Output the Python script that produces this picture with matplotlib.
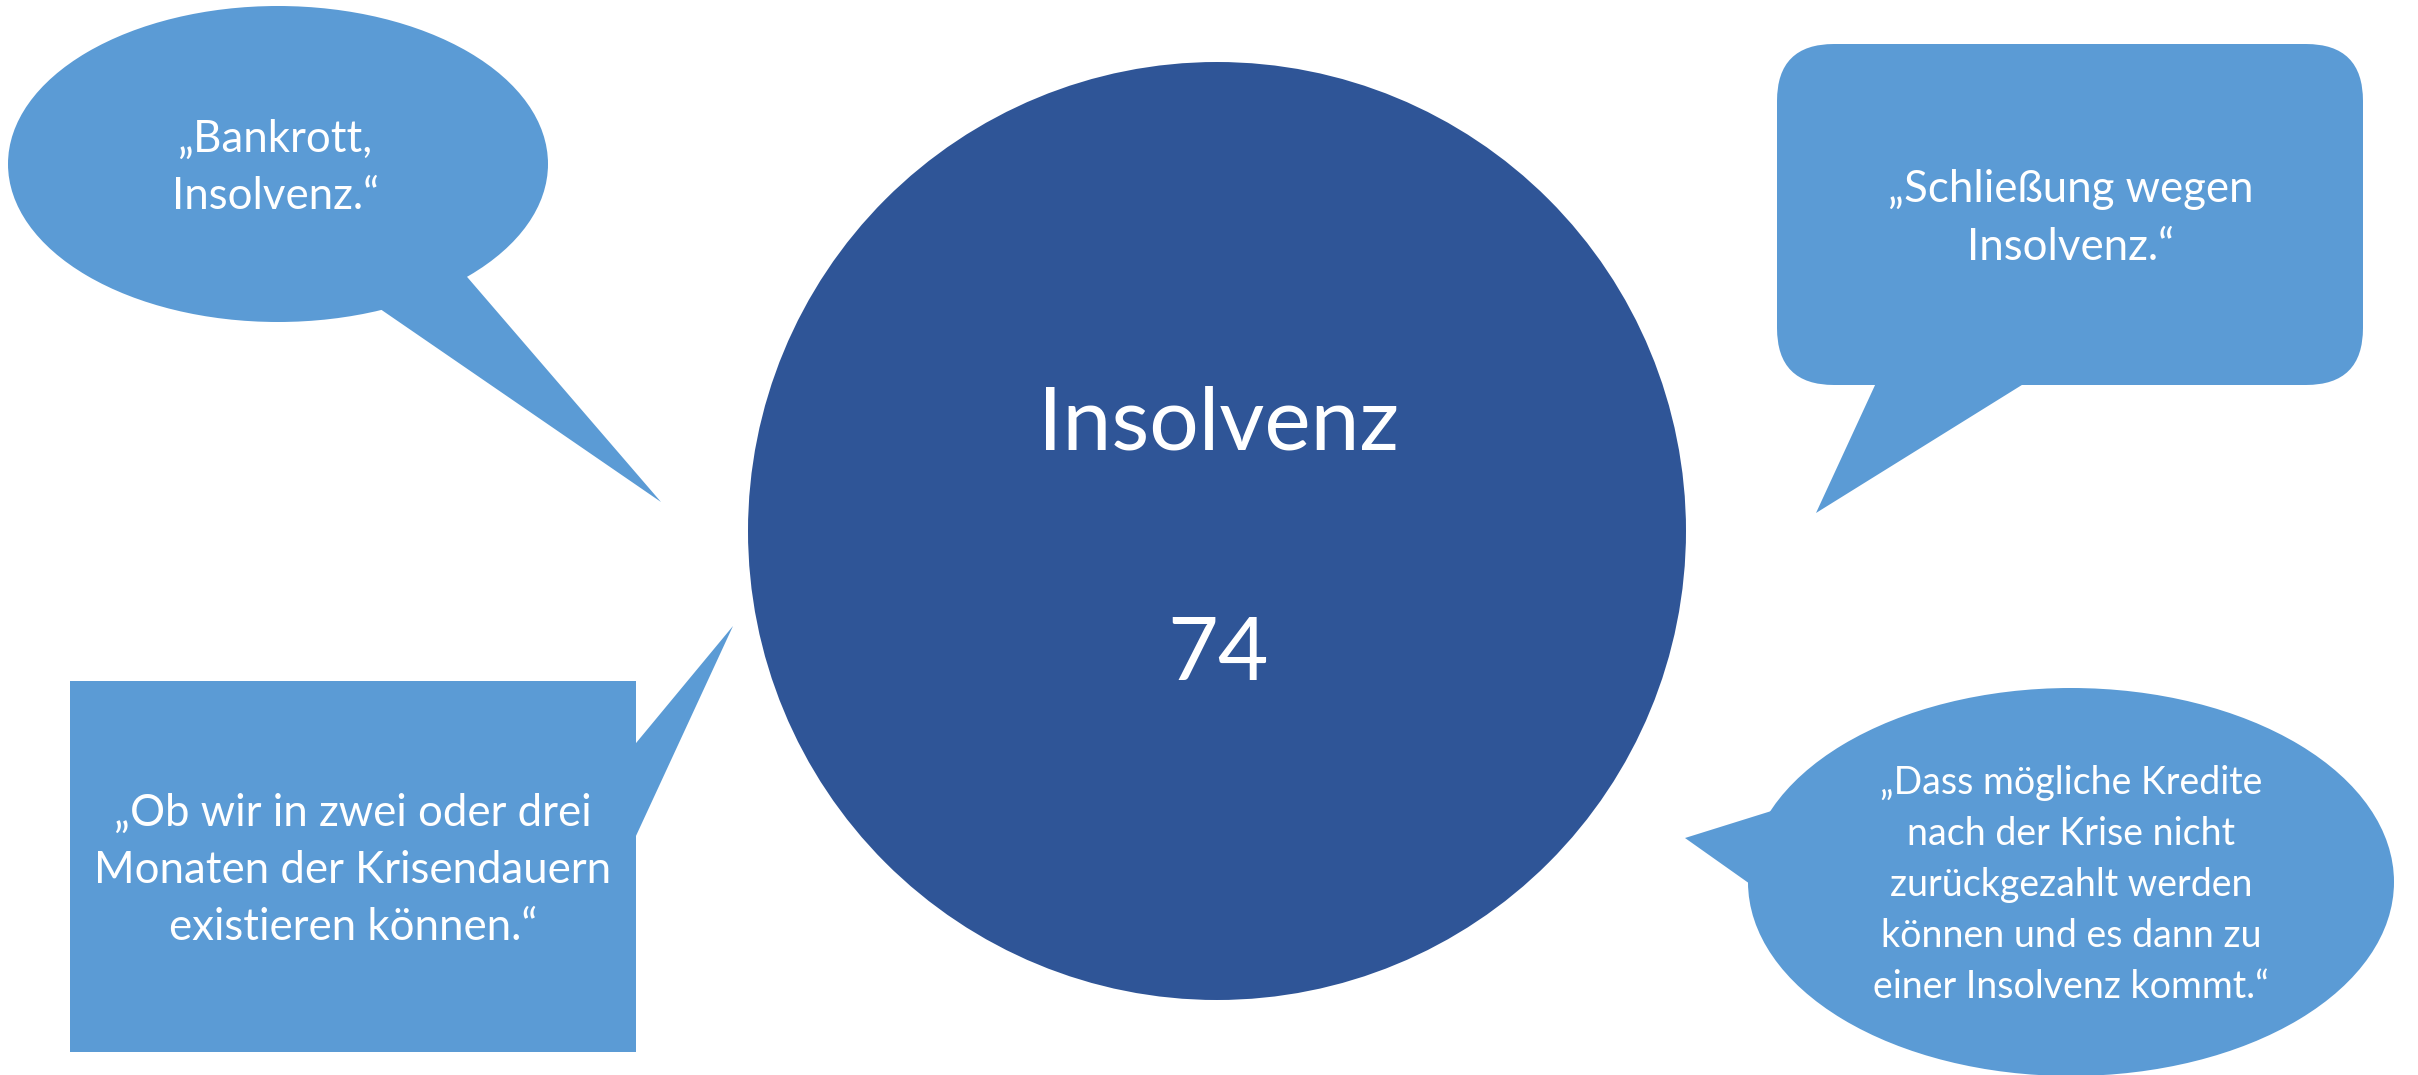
import matplotlib
matplotlib.use("Agg")
import matplotlib.pyplot as plt
from matplotlib.patches import Ellipse, Circle, FancyBboxPatch, Polygon, Rectangle

# central topic and count
topic = "Insolvenz"
count = 74

# quotes, one list of lines per bubble
quote_tl = ["„Bankrott,", "Insolvenz.“"]
quote_tr = ["„Schließung wegen", "Insolvenz.“"]
quote_bl = ["„Ob wir in zwei oder drei", "Monaten der Krisendauern", "existieren können.“"]
quote_br = ["„Dass mögliche Kredite", "nach der Krise nicht", "zurückgezahlt werden",
            "können und es dann zu", "einer Insolvenz kommt.“"]

light = "#5B9BD5"
dark = "#2F5597"
font = ["Lato", "DejaVu Sans"]

W, H = 2418, 1075
fig = plt.figure(figsize=(W / 100, H / 100), dpi=100)
ax = fig.add_axes([0, 0, 1, 1])
ax.set_xlim(0, W)
ax.set_ylim(H, 0)
ax.axis("off")


def lines(txt, x, y0, step, size):
    for i, t in enumerate(txt):
        ax.text(x, y0 + i * step, t, ha="center", va="baseline", color="white",
                fontsize=size, family=font)


# top left: oval bubble
ax.add_patch(Ellipse((278, 164), 540, 316, color=light, lw=0))
ax.add_patch(Polygon([(437, 242), (661, 502), (338, 280)], color=light, lw=0))
lines(quote_tl, 276, 152, 57, 31.5)

# top right: rounded box
ax.add_patch(FancyBboxPatch((1777 + 57, 44 + 57), 586 - 114, 341 - 114,
                            boxstyle="round,pad=57", color=light, lw=0))
ax.add_patch(Polygon([(1882, 370), (1816, 513), (2046, 370)], color=light, lw=0))
lines(quote_tr, 2071, 202, 58, 31.5)

# bottom left: plain box
ax.add_patch(Rectangle((70, 681), 566, 371, color=light, lw=0))
ax.add_patch(Polygon([(617, 766), (733, 626), (617, 877)], color=light, lw=0))
lines(quote_bl, 353, 826, 57, 31.5)

# bottom right: oval bubble
ax.add_patch(Ellipse((2071, 882), 646, 388, color=light, lw=0))
ax.add_patch(Polygon([(1797, 803), (1685, 838), (1767, 896)], color=light, lw=0))
lines(quote_br, 2071, 794, 51, 27)

# centre circle
ax.add_patch(Circle((1217, 531), 469, color=dark, lw=0))
ax.text(1218, 449, topic, ha="center", va="baseline", color="white", fontsize=63, family=font)
ax.text(1218, 680, str(count), ha="center", va="baseline", color="white", fontsize=63, family=font)

fig.savefig("out.png", dpi=100)
